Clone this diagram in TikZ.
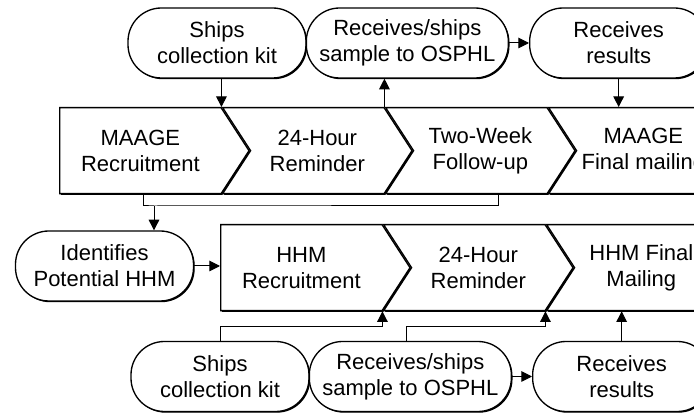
\documentclass[tikz,border=0pt]{standalone}
\usepackage{fontspec}
\setmainfont{Liberation Sans}
\usetikzlibrary{shapes.symbols, arrows.meta, positioning, shadows}

\begin{document}
\begin{tikzpicture}[
    x=0.75pt, y=-0.75pt,
    every node/.style={font=\fontsize{16.5}{19.5}\selectfont},
    flat/.style={drop shadow={shadow xshift=0.9pt, shadow yshift=-0.9pt, fill=black, opacity=1}},
    task/.style={rectangle, rounded corners=25pt, draw, line width=1pt, fill=white, flat, minimum width=133.5pt, minimum height=52.5pt, align=center, inner sep=0pt},
    widetask/.style={task, minimum width=151.5pt},
    stage/.style={signal, signal from=west, signal to=east, signal pointer angle=114, draw, line width=1pt, fill=white, flat, minimum width=142pt, minimum height=64.5pt, align=center, inner sep=0pt},
    firststage/.style={stage, signal from=nowhere},
    arrow/.style={-{Triangle[length=8pt, width=8pt]}, line width=0.75pt},
    link/.style={line width=0.75pt}
]
\useasboundingbox (0,0) rectangle (694,413);

% MAAGE steps
\node[firststage, anchor=north west] (maage) at (59,107) {MAAGE\\Recruitment};
\node[stage, anchor=north west] (remind) at (maage.north east) {24-Hour\\Reminder};
\node[stage, anchor=north west] (followup) at (remind.north east) {Two-Week\\Follow-up};
\node[stage, anchor=north west] (final) at (followup.north east) {MAAGE\\Final mailing};

% MAAGE tasks
\node[task] (kit) at (217,43) {Ships\\collection kit};
\node[widetask, right=-0.75pt of kit] (sample) {Receives/ships\\sample to OSPHL};
\node[task, right=15pt of sample] (results) {Receives\\results};

\draw[arrow] (kit.south -| remind.north west) -- (remind.north west);
\draw[arrow] (followup.north west) -- (followup.north west |- sample.south);
\draw[arrow] (sample.east) -- (results.west);
\draw[arrow] (results.south) -- (results.south |- final.north);

% HHM steps
\node[task] (potential) at (104.5,266) {Identifies\\Potential HHM};
\node[firststage, anchor=north west] (hhm) at (220,224) {HHM\\Recruitment};
\node[stage, anchor=north west] (hhmremind) at (hhm.north east) {24-Hour\\Reminder};
\node[stage, anchor=north west] (hhmfinal) at (hhmremind.north east) {HHM Final\\Mailing};

\coordinate (split) at (154,206);
\draw[link] ([xshift=2pt]maage.south) |- (split) -| ([xshift=13.5pt]followup.south);
\draw[arrow] (split) -- (split |- potential.north);
\draw[arrow] (potential.east) -- (potential.east -| hhm.west);

% HHM tasks
\node[task] (hhmkit) at (220,376.5) {Ships\\collection kit};
\node[widetask, right=-0.75pt of hhmkit] (hhmsample) {Receives/ships\\sample to OSPHL};
\node[task, right=15pt of hhmsample] (hhmresults) {Receives\\results};

\draw[arrow] (hhmkit.north) -- ++(0,-14) -| (hhmremind.south west);
\draw[arrow] ([xshift=-3pt]hhmsample.north) -- ++(0,-14) -| (hhmfinal.south west);
\draw[arrow] (hhmsample.east) -- (hhmresults.west);
\draw[arrow] (hhmresults.north) -- (hhmresults.north |- hhmfinal.south);

\end{tikzpicture}
\end{document}
